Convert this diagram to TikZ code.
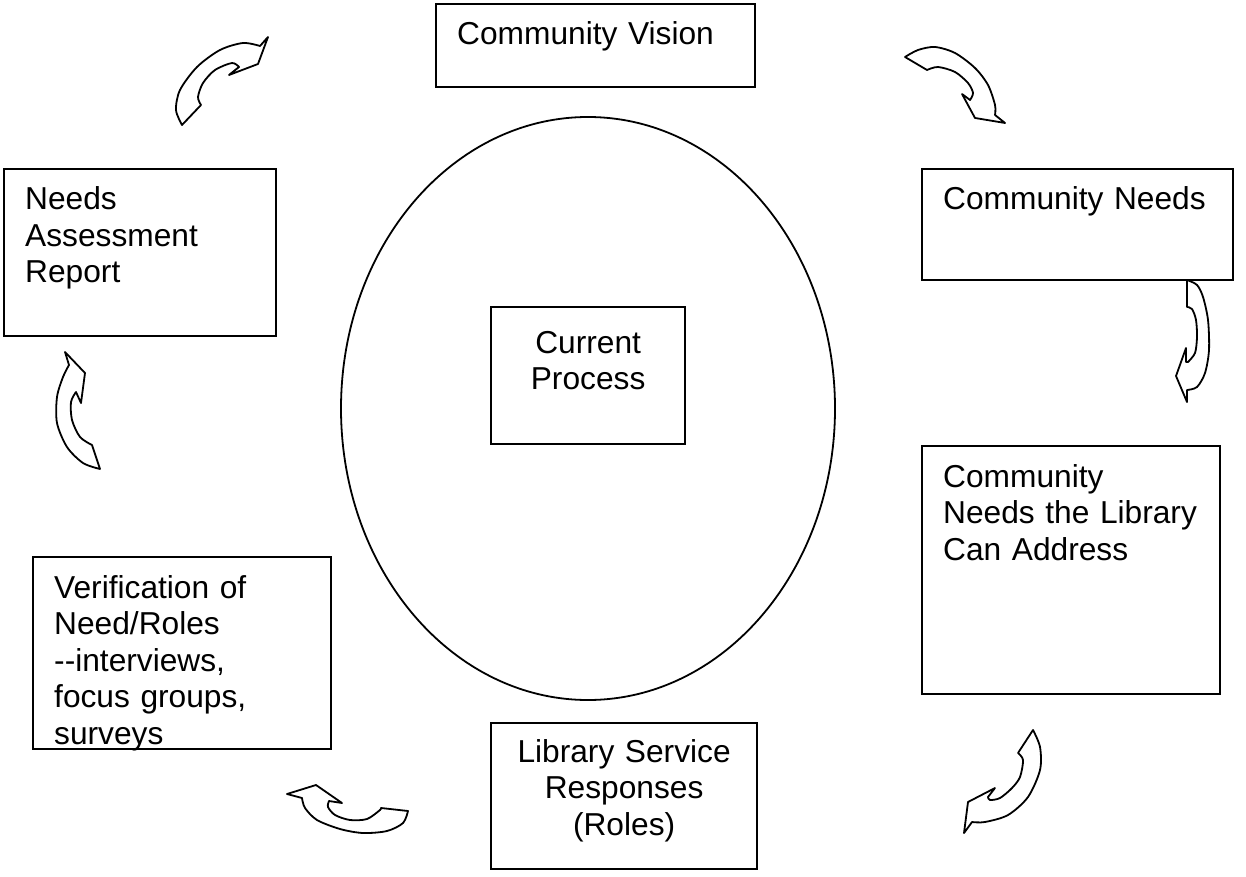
\documentclass[tikz,border=0pt]{standalone}
\usepackage{fontspec}
\setmainfont{Liberation Sans}
\usetikzlibrary{shapes.geometric}

\begin{document}
\begin{tikzpicture}[x=1pt, y=-1pt,
    font=\fontsize{31.7}{36.5}\selectfont,
    box/.style={draw, line width=2.2pt, anchor=north west, inner sep=0pt},
    txt/.style={anchor=base west, inner sep=0pt, align=left, text width=280pt},
    ctxt/.style={anchor=base, inner sep=0pt, align=center},
    curved/.style={draw, fill=white, line width=1.8pt, line join=round}]

    \useasboundingbox (0,0) rectangle (1246,877);

    % ring in the middle
    \node[draw, ellipse, line width=1.8pt, minimum width=494pt, minimum height=583pt] (ring) at (588,408.5) {};

    % boxes
    \node[box, minimum width=319pt, minimum height=83pt]  (vision)  at (435,3)   {};
    \node[box, minimum width=311pt, minimum height=111pt] (needs)   at (921,168) {};
    \node[box, minimum width=272pt, minimum height=167pt] (report)  at (3,168)   {};
    \node[box, minimum width=194pt, minimum height=137pt] (current) at (490,306) {};
    \node[box, minimum width=298pt, minimum height=248pt] (address) at (921,445) {};
    \node[box, minimum width=298pt, minimum height=192pt] (verify)  at (32,556)  {};
    \node[box, minimum width=266pt, minimum height=146pt] (roles)   at (490,722) {};

    % texts
    \node[txt] (visiontext)  at ([shift={(22,42)}]vision.north west)  {Community Vision};
    \node[txt] (needstext)   at ([shift={(22,42)}]needs.north west)   {Community Needs};
    \node[txt] (reporttext)  at ([shift={(22,42)}]report.north west)  {Needs\\Assessment\\Report};
    \node[txt] (addresstext) at ([shift={(22,42)}]address.north west) {Community\\Needs the Library\\Can Address};
    \node[txt] (verifytext)  at ([shift={(22,42)}]verify.north west)  {Verification of\\Need/Roles\\-{}-interviews,\\focus groups,\\surveys};
    \node[ctxt, text width=190pt] (currenttext) at ([shift={(0,47)}]current.north) {Current\\Process};
    \node[ctxt, text width=262pt] (rolestext)   at ([shift={(0,40)}]roles.north)   {Library Service\\Responses\\(Roles)};

    % curved arrows, clockwise round the ring
    % vision -> needs
    \draw[curved] (905,57) -- plot[smooth] coordinates {(905,57) (918,50) (935,47) (955,53) (975,68) (988,85) (995,105) (995,115)}
        -- (1005,123) -- (975,118) -- (962,94) -- (970,100)
        -- plot[smooth] coordinates {(970,100) (973,93) (968,83) (955,72) (938,67) (927,70)} -- cycle;
    % needs -> address
    \draw[curved] (1187,280) -- plot[smooth] coordinates {(1187,280) (1197,285) (1203,297) (1208,320) (1209,350) (1205,373) (1197,387) (1187,390)}
        -- (1187,402) -- (1176,376) -- (1186,348) -- (1186,362)
        -- plot[smooth] coordinates {(1188,362) (1195,353) (1197,337) (1196,320) (1192,309) (1187,307)} -- cycle;
    % address -> roles
    \draw[curved] (1033,730) -- plot[smooth] coordinates {(1033,730) (1040,747) (1040,770) (1028,797) (1008,815) (985,822) (972,822)}
        -- (964,833) -- (968,802) -- (995,788) -- (988,797)
        -- plot[smooth] coordinates {(988,797) (990,800) (1000,798) (1012,788) (1020,777) (1023,760) (1018,753)} -- cycle;
    % roles -> verify
    \draw[curved] (408,811) -- plot[smooth] coordinates {(408,811) (403,823) (387,831) (363,833) (340,829) (317,820) (305,808) (302,798)}
        -- (287,794) -- (316,785) -- (342,803) -- (329,801)
        -- plot[smooth] coordinates {(329,801) (328,807) (335,815) (350,820) (367,819) (380,810) (381,808)} -- cycle;
    % verify -> report
    \draw[curved] (100,469) -- plot[smooth] coordinates {(100,469) (83,463) (67,447) (57,423) (57,397) (63,377) (69,365)}
        -- (65,352) -- (85,373) -- (81,403) -- (76,392)
        -- plot[smooth] coordinates {(76,392) (71,402) (72,420) (80,437) (92,445)} -- cycle;
    % report -> vision
    \draw[curved] (182,125) -- plot[smooth] coordinates {(182,125) (176,110) (180,90) (197,67) (220,50) (243,43) (260,46)}
        -- (268,37) -- (258,64) -- (229,75) -- (239,67)
        -- plot[smooth] coordinates {(239,67) (232,63) (215,70) (203,83) (198,97) (201,105)} -- cycle;
\end{tikzpicture}
\end{document}
